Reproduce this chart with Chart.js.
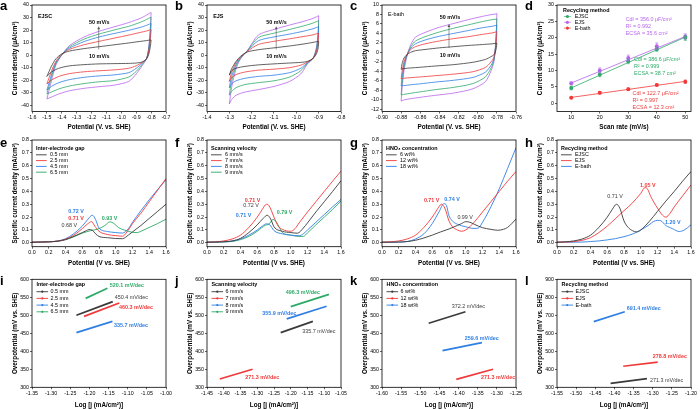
<!DOCTYPE html>
<html><head><meta charset="utf-8">
<script src="https://cdn.jsdelivr.net/npm/chart.js@4.4.1/dist/chart.umd.min.js"></script>
<style>
html,body{margin:0;padding:0;background:#fff}
body{width:700px;height:409px;position:relative;overflow:hidden}
canvas{position:absolute}
.lt{position:absolute;font-family:"Liberation Sans",Arial,sans-serif;font-weight:bold;font-size:13px;line-height:13px;color:#000;z-index:5}
</style></head><body>
<script>
// ================= DATA =================
const panelLetters = ['a','b','c','d','e','f','g','h','i','j','k','l'];

// tick labels
const aXTicks = [-1.6,-1.5,-1.4,-1.3,-1.2,-1.1,-1.0,-0.9,-0.8,-0.7];
const bXTicks = [-1.4,-1.3,-1.2,-1.1,-1.0,-0.9,-0.8];
const cXTicks = [-0.90,-0.88,-0.86,-0.84,-0.82,-0.80,-0.78,-0.76];
const dXTicks = [10,20,30,40,50];
const abYTicks = [-40,-30,-20,-10,0,10,20,30,40];
const cYTicks = [-12,-10,-8,-6,-4,-2,0,2,4,6,8,10];
const dYTicks = [0,5,10,15,20,25,30];
const lsvXTicks = [0,0.2,0.4,0.6,0.8,1.0,1.2,1.4,1.6];
const lsvYTicks = [0,0.1,0.2,0.3,0.4,0.5,0.6,0.7,0.8];
const iXTicks = [-1.35,-1.30,-1.25,-1.20,-1.15,-1.10,-1.05,-1.00];
const jXTicks = [-1.45,-1.40,-1.35,-1.30,-1.25,-1.20,-1.15,-1.10,-1.05];
const kXTicks = [-1.60,-1.55,-1.50,-1.45,-1.40,-1.35,-1.30,-1.25];
const lXTicks = [-1.55,-1.50,-1.45,-1.40,-1.35,-1.30,-1.25,-1.20];
const ijkYTicks = [300,350,400,450,500,550,600];
const lYTicks = [300,400,500,600,700,800,900];

// Panel a : EJSC cyclic voltammetry (10..50 mV/s)
const aFwdX  = [-1.50,-1.47,-1.44,-1.40,-1.35,-1.25,-1.15,-1.05,-0.95,-0.87,-0.83,-0.81,-0.80];
const aBackX = [-0.80,-0.805,-0.815,-0.83,-0.86,-0.90,-0.95,-1.05,-1.15,-1.25,-1.35,-1.42,-1.47,-1.50];
const aFwd10 = [-17,-9,-3,1,3.2,5.2,6.7,8.2,9.7,11,11.6,12,12];
const aFwd20 = [-23,-13,-5,0.5,4.5,8.3,11,13.5,16,18.2,19.3,20,20.3];
const aFwd30 = [-28,-16,-6,0.3,5.5,10.8,14.5,17.2,19.8,22.2,23.8,24.8,25.2];
const aFwd40 = [-31,-18,-7,0.2,6.5,12.8,16.8,20,23,26.3,28.5,29.8,30.2];
const aFwd50 = [-35,-21,-8,0,7.5,14.5,19,22.5,26,29.5,32,33.5,34];
const aBack10 = [12,7,1,-3,-5.5,-6.3,-6.6,-6.8,-7.0,-7.6,-8.6,-10.5,-13.5,-17];
const aBack20 = [20.3,13,4,-2.5,-5.8,-8.5,-10.5,-11.8,-12.5,-13.3,-14.8,-17,-20,-23];
const aBack30 = [25.2,16,5,-2.5,-6.5,-10.5,-14,-15.8,-16.6,-17.7,-19.6,-22,-25,-28];
const aBack40 = [30.2,19,6,-2.5,-7.5,-13,-17.5,-20.3,-21.3,-22.7,-24.7,-27,-29.5,-31];
const aBack50 = [34,22,7,-2.5,-8.5,-15,-21,-24,-25.2,-26.5,-28.5,-31,-33.5,-35];

// Panel b : EJS
const bFwdX  = [-1.30,-1.29,-1.27,-1.25,-1.22,-1.17,-1.10,-1.03,-0.97,-0.93,-0.91,-0.90];
const bBackX = [-0.90,-0.902,-0.91,-0.925,-0.95,-0.98,-1.03,-1.10,-1.17,-1.23,-1.27,-1.29,-1.30];
const bFwd10 = [-16,-11,-5,-1,2.5,4.3,5.8,7.3,8.8,10,10.7,11];
const bFwd20 = [-21,-14,-6,-1.5,3,8.5,11,13,14.8,16,17,17.5];
const bFwd30 = [-26,-17,-7.5,-2,3.2,11.5,14.5,16.8,19,20.8,22,22.8];
const bFwd40 = [-32,-21,-9,-2.5,3.4,14,17.5,20.5,23.2,25.3,26.7,27.5];
const bFwd50 = [-39,-26,-11,-3,3.5,16,20.5,24,26.8,29,30.5,31.5];
const bBack10 = [11,6,1,-2.5,-5,-5.8,-6.3,-7.0,-7.8,-9,-10.5,-12.5,-16];
const bBack20 = [17.5,11,3,-2.5,-5.5,-8,-10,-11.2,-12,-13.5,-15.5,-18,-21];
const bBack30 = [22.8,14,4,-2.5,-6,-10.5,-14,-16,-17,-18.5,-20.5,-23,-26];
const bBack40 = [27.5,17,5,-2.5,-6.5,-12.5,-17.5,-20.5,-22,-23.5,-26,-29,-32];
const bBack50 = [31.5,20,6,-2.5,-7,-15,-21,-25,-27.5,-29.5,-32,-35.5,-39];

// Panel c : E-bath
const cFwdX  = [-0.880,-0.879,-0.877,-0.874,-0.870,-0.865,-0.855,-0.840,-0.825,-0.810,-0.795,-0.785,-0.781,-0.780];
const cBackX = [-0.780,-0.7805,-0.7815,-0.783,-0.786,-0.792,-0.805,-0.825,-0.845,-0.860,-0.870,-0.876,-0.879,-0.880];
const cFwd10 = [-3.6,-2.4,-1.2,-0.5,0,0.35,0.6,0.95,1.2,1.45,1.65,1.8,1.9,1.95];
const cFwd20 = [-5.6,-4,-2,-0.5,0.6,1.2,1.8,2.4,2.9,3.3,3.8,4.1,4.3,4.4];
const cFwd30 = [-7.1,-5.2,-2.6,-0.6,0.9,1.8,2.6,3.4,4.0,4.6,5.2,5.5,5.7,5.8];
const cFwd40 = [-9,-6.5,-3.2,-0.7,1.2,2.4,3.3,4.3,5.1,5.8,6.5,6.9,7.0,7.1];
const cFwd50 = [-10.3,-7.5,-3.8,-0.9,1.6,3.2,4.2,5.3,6.1,6.9,7.6,8.0,8.1,8.2];
const cBack10 = [1.95,1.0,0.1,-0.5,-0.9,-1.5,-2.1,-2.6,-2.9,-3.15,-3.3,-3.4,-3.5,-3.6];
const cBack20 = [4.4,2.6,0.6,-1.0,-2.0,-3.2,-4.1,-4.6,-4.95,-5.2,-5.35,-5.45,-5.55,-5.6];
const cBack30 = [5.8,3.4,0.8,-1.3,-2.7,-4.2,-5.3,-5.9,-6.3,-6.65,-6.85,-7.0,-7.05,-7.1];
const cBack40 = [7.1,4.2,1.0,-1.6,-3.3,-5.2,-6.6,-7.4,-7.9,-8.35,-8.65,-8.85,-8.95,-9.0];
const cBack50 = [8.2,5.0,1.3,-1.9,-3.9,-6.2,-7.7,-8.6,-9.1,-9.5,-9.8,-10.0,-10.2,-10.3];

// Panel d : double-layer capacitance
const recycleMethods = ['EJSC','EJS','E-bath'];
const dScan = [10,20,30,40,50];
const dEJSC = [4.7,8.8,12.8,16.5,20.0];
const dEJS = [6.1,10.0,13.8,17.4,20.4];
const dEbath = [1.7,3.2,4.3,5.6,6.6];
const dErrEJSC = [0.6,0.7,0.7,0.6,0.8];
const dErrEJS = [0.4,0.8,0.9,1.0,0.8];
const dErrEbath = [0.2,0.4,0.4,0.3,0.5];
const dFitX = [10,50];
const dFitEJSC = [4.7,20.2];
const dFitEJS = [6.2,20.4];
const dFitEbath = [1.8,6.7];

// Panel e : inter-electrode gap LSV
const gapNames = ['0.5 mm','2.5 mm','4.5 mm','6.5 mm'];
const eX05 = [0,0.1,0.2,0.3,0.4,0.5,0.6,0.65,0.68,0.72,0.76,0.8,0.9,1.0,1.08,1.15,1.2,1.3,1.4,1.5,1.6];
const eY05 = [0.005,0.006,0.008,0.012,0.025,0.05,0.08,0.095,0.103,0.098,0.07,0.05,0.04,0.034,0.032,0.06,0.085,0.135,0.19,0.245,0.3];
const eX25 = [0,0.1,0.2,0.3,0.4,0.5,0.6,0.66,0.71,0.75,0.8,0.9,1.0,1.08,1.15,1.2,1.3,1.4,1.5,1.6];
const eY25 = [0.005,0.006,0.008,0.013,0.028,0.06,0.11,0.145,0.165,0.13,0.09,0.065,0.056,0.052,0.1,0.15,0.23,0.32,0.41,0.5];
const eX45 = [0,0.1,0.2,0.3,0.4,0.5,0.6,0.67,0.72,0.76,0.8,0.9,1.0,1.08,1.15,1.2,1.3,1.4,1.5,1.6];
const eY45 = [0.005,0.006,0.008,0.014,0.032,0.072,0.13,0.185,0.215,0.18,0.115,0.088,0.08,0.076,0.11,0.16,0.25,0.335,0.415,0.49];
const eX65 = [0,0.1,0.2,0.3,0.4,0.5,0.6,0.7,0.8,0.87,0.93,0.98,1.03,1.1,1.2,1.26,1.3,1.4,1.5,1.6];
const eY65 = [0.005,0.006,0.008,0.013,0.025,0.048,0.075,0.095,0.11,0.135,0.163,0.15,0.12,0.1,0.082,0.08,0.09,0.12,0.15,0.184];

// Panel f : scanning velocity LSV
const velNames = ['6 mm/s','7 mm/s','8 mm/s','9 mm/s'];
const fX6 = [0,0.1,0.2,0.3,0.4,0.5,0.6,0.67,0.72,0.76,0.8,0.9,1.0,1.08,1.15,1.2,1.3,1.4,1.5,1.6];
const fY6 = [0.005,0.006,0.008,0.015,0.035,0.08,0.14,0.19,0.215,0.185,0.125,0.09,0.08,0.075,0.115,0.155,0.24,0.32,0.4,0.483];
const fX7 = [0,0.1,0.2,0.3,0.4,0.5,0.6,0.66,0.71,0.74,0.8,0.85,0.9,1.0,1.05,1.1,1.2,1.3,1.4,1.5,1.6];
const fY7 = [0.005,0.007,0.015,0.03,0.06,0.12,0.2,0.26,0.3,0.29,0.2,0.13,0.105,0.09,0.11,0.155,0.24,0.32,0.4,0.48,0.558];
const fX8 = [0,0.1,0.2,0.3,0.4,0.5,0.6,0.66,0.71,0.75,0.8,0.9,1.0,1.1,1.15,1.2,1.3,1.4,1.5,1.6];
const fY8 = [0.005,0.006,0.008,0.013,0.03,0.06,0.1,0.13,0.148,0.14,0.095,0.07,0.06,0.055,0.07,0.1,0.16,0.22,0.28,0.338];
const fX9 = [0,0.1,0.2,0.3,0.4,0.5,0.6,0.7,0.74,0.79,0.83,0.9,1.0,1.1,1.15,1.2,1.3,1.4,1.5,1.6];
const fY9 = [0.005,0.006,0.008,0.011,0.025,0.05,0.09,0.138,0.145,0.183,0.16,0.08,0.06,0.05,0.05,0.078,0.14,0.2,0.26,0.325];

// Panel g : HNO3 concentration LSV
const hno3Names = ['6 wt%','12 wt%','18 wt%'];
const gX6 = [0,0.1,0.2,0.3,0.4,0.5,0.6,0.7,0.8,0.9,0.95,1.0,1.05,1.1,1.2,1.3,1.38,1.45,1.5,1.55,1.6];
const gY6 = [0.005,0.005,0.006,0.01,0.02,0.038,0.06,0.085,0.108,0.135,0.15,0.165,0.16,0.145,0.118,0.105,0.098,0.105,0.12,0.15,0.185];
const gX12 = [0,0.1,0.2,0.3,0.4,0.5,0.6,0.66,0.71,0.75,0.8,0.85,0.9,0.95,1.0,1.1,1.2,1.3,1.4,1.5,1.6];
const gY12 = [0.005,0.008,0.015,0.03,0.06,0.12,0.2,0.26,0.3,0.27,0.17,0.12,0.1,0.09,0.1,0.16,0.24,0.32,0.4,0.48,0.555];
const gX18 = [0,0.1,0.2,0.3,0.4,0.5,0.6,0.68,0.74,0.77,0.8,0.85,0.9,1.0,1.1,1.15,1.2,1.3,1.4,1.5,1.6];
const gY18 = [0.005,0.005,0.006,0.01,0.03,0.07,0.15,0.24,0.305,0.29,0.21,0.165,0.145,0.125,0.112,0.115,0.16,0.28,0.42,0.58,0.74];

// Panel h : recycling method LSV
const hX1 = [0,0.1,0.2,0.3,0.4,0.5,0.6,0.66,0.71,0.75,0.8,0.85,0.9,0.95,1.0,1.1,1.2,1.3,1.4,1.5,1.6];
const hY1 = [0.005,0.008,0.015,0.03,0.06,0.12,0.2,0.26,0.3,0.27,0.17,0.12,0.095,0.085,0.1,0.165,0.245,0.325,0.4,0.48,0.555];
const hX2 = [0,0.1,0.2,0.3,0.4,0.5,0.6,0.7,0.8,0.9,1.0,1.05,1.08,1.12,1.2,1.26,1.3,1.35,1.4,1.5,1.6];
const hY2 = [0.005,0.006,0.01,0.02,0.04,0.08,0.13,0.19,0.25,0.31,0.385,0.43,0.42,0.36,0.27,0.215,0.2,0.23,0.28,0.365,0.45];
const hX3 = [0,0.1,0.2,0.3,0.4,0.5,0.6,0.7,0.8,0.9,1.0,1.1,1.15,1.2,1.24,1.3,1.38,1.46,1.52,1.6];
const hY3 = [0.005,0.005,0.005,0.006,0.01,0.015,0.023,0.033,0.048,0.068,0.1,0.14,0.165,0.175,0.172,0.135,0.11,0.088,0.1,0.14];

// Panels i-l : Tafel segments
const iX05 = [-1.234,-1.139], iY05 = [500,538];
const iX25 = [-1.214,-1.122], iY25 = [497,534];
const iX45 = [-1.234,-1.140], iY45 = [452,483];
const iX65 = [-1.210,-1.153], iY65 = [547,575];
const jX6 = [-1.230,-1.134], jY6 = [452,483];
const jX7 = [-1.412,-1.314], jY7 = [323,350];
const jX8 = [-1.212,-1.093], jY8 = [490,525];
const jX9 = [-1.200,-1.086], jY9 = [524,558];
const kX6 = [-1.478,-1.382], kY6 = [478,510];
const kX12 = [-1.406,-1.310], kY12 = [322,350];
const kX18 = [-1.442,-1.339], kY18 = [402,424];
const lX1 = [-1.410,-1.315], lY1 = [322,348];
const lX2 = [-1.377,-1.287], lY2 = [417,440];
const lX3 = [-1.454,-1.373], lY3 = [665,720];

// ================= STYLE / LAYOUT =================
const FONT = '"Liberation Sans", Arial, Helvetica, sans-serif';
const COL = {k:'#3a3a3a', r:'#f03a3a', b:'#2f7fe4', g:'#2eaa68', p:'#b865ef'};
const COLS=[0,175,350,525], ROWS=[0,135,270], ROWH=[135,135,139];
const PT=[5,5,9.3], PB=[111.5,111.7,117.3], XPAD=[3.5,2.9,0.2];
const decoMap = new Map();

const deco = {
  id:'deco',
  afterDatasetsDraw(chart){
    const d = decoMap.get(chart.canvas) || {};
    const ctx=chart.ctx, a=chart.chartArea, xs=chart.scales.x, ys=chart.scales.y;
    const X=v=>xs.getPixelForValue(v), Y=v=>ys.getPixelForValue(v);
    ctx.save();
    (d.errors||[]).forEach(e=>{
      ctx.strokeStyle=e.c; ctx.lineWidth=0.6;
      e.xs.forEach((xv,i)=>{
        const px=X(xv), y1=Y(e.ys[i]-e.err[i]), y2=Y(e.ys[i]+e.err[i]);
        ctx.beginPath(); ctx.moveTo(px,y1); ctx.lineTo(px,y2);
        ctx.moveTo(px-1.5,y1); ctx.lineTo(px+1.5,y1);
        ctx.moveTo(px-1.5,y2); ctx.lineTo(px+1.5,y2); ctx.stroke();
      });
    });
    (d.arrows||[]).forEach(ar=>{
      const px=X(ar.x), y1=Y(ar.y1), y2=Y(ar.y2);
      ctx.strokeStyle='#555'; ctx.fillStyle='#555'; ctx.lineWidth=0.6;
      ctx.beginPath(); ctx.moveTo(px,y1); ctx.lineTo(px,y2+2.5); ctx.stroke();
      ctx.beginPath(); ctx.moveTo(px,y2); ctx.lineTo(px-1.4,y2+3); ctx.lineTo(px+1.4,y2+3); ctx.closePath(); ctx.fill();
    });
    ctx.textBaseline='middle';
    (d.texts||[]).forEach(t=>{
      ctx.font=(t.b?'bold ':'')+(t.s||5.4)+'px '+FONT;
      ctx.fillStyle=t.c||'#000'; ctx.textAlign=t.al||'left';
      ctx.fillText(t.t, X(t.x), Y(t.y));
    });
    if (d.legend){
      const L=d.legend, lx=a.left+L.dx, ly=a.top+L.dy;
      ctx.textAlign='left';
      ctx.font='bold 5.4px '+FONT; ctx.fillStyle='#000';
      ctx.fillText(L.title, lx, ly);
      ctx.font='5.4px '+FONT;
      L.labels.forEach((lab,i)=>{
        const yy=ly+L.gap*(i+1), c=L.colors[i];
        ctx.strokeStyle=c; ctx.fillStyle=c;
        if (L.style==='marker'){
          ctx.lineWidth=0.6; ctx.beginPath(); ctx.moveTo(lx+L.sx,yy); ctx.lineTo(lx+L.sx+7,yy); ctx.stroke();
          ctx.beginPath(); ctx.arc(lx+L.sx+3.5,yy,1.6,0,Math.PI*2); ctx.fill();
        } else {
          ctx.lineWidth=0.9;
          ctx.beginPath(); ctx.moveTo(lx,yy); ctx.lineTo(lx+L.len,yy); ctx.stroke();
          if (L.style==='linemarker'){ ctx.beginPath(); ctx.arc(lx+L.len/2,yy,1.1,0,Math.PI*2); ctx.fill(); }
        }
        ctx.fillStyle='#000';
        ctx.fillText(lab, lx+L.tx, yy);
      });
    }
    ctx.strokeStyle='#000'; ctx.lineWidth=0.8;
    ctx.strokeRect(a.left,a.top,a.right-a.left,a.bottom-a.top);
    ctx.restore();
  }
};
Chart.register(deco);

function pts(xs, ys){ return xs.map((x,i)=>({x:x, y:ys[i]})); }
function loopDs(fx,bx,fy,by,c){ return {data:pts(fx,fy).concat(pts(bx,by)), borderColor:c, borderWidth:0.8, pointRadius:0, tension:0.25, fill:false}; }
function curveDs(xs,ys,c){ return {data:pts(xs,ys), borderColor:c, borderWidth:0.9, pointRadius:0, cubicInterpolationMode:'monotone', fill:false}; }
function segDs(xs,ys,c){ return {data:pts(xs,ys), borderColor:c, borderWidth:1.7, pointRadius:0, fill:false}; }
function dotDs(xs,ys,c){ return {data:pts(xs,ys), showLine:false, pointRadius:2, pointBackgroundColor:c, pointBorderColor:c, pointBorderWidth:0}; }
function fitDs(xs,ys,c){ return {data:pts(xs,ys), borderColor:c, borderWidth:0.8, pointRadius:0, fill:false}; }
function fmt(v,dec){ return Number(v).toFixed(dec); }

function build(p){
  const cv=document.createElement('canvas');
  const H=ROWH[p.row];
  cv.width=175; cv.height=H;
  cv.style.left=COLS[p.col]+'px'; cv.style.top=ROWS[p.row]+'px';
  cv.style.width='175px'; cv.style.height=H+'px';
  document.body.appendChild(cv);
  decoMap.set(cv,p.deco||{});
  const tf={family:FONT,size:5.3};
  const axis=(min,max,ticks,dec,title,isX)=>({
    type:'linear', min:min, max:max,
    afterBuildTicks:s=>{ s.ticks=ticks.map(v=>({value:v})); },
    afterFit: isX ? (s=>{ s.height=H-PB[p.row]; }) : (s=>{ s.width=32; }),
    ticks:{autoSkip:false, maxRotation:0, minRotation:0, font:tf, color:'#000', padding:1, callback:v=>fmt(v,dec)},
    grid:{display:true, drawOnChartArea:false, drawTicks:true, tickLength:2, tickWidth:0.6, color:'#000'},
    border:{display:false},
    title:{display:true, text:title, color:'#000', font:{family:FONT,size:6.3,weight:'bold'},
      padding: isX? {top:0,bottom:XPAD[p.row]} : {top:11.2,bottom:0}}
  });
  new Chart(cv,{type:'line', data:{datasets:p.datasets}, options:{
    responsive:false, animation:false, devicePixelRatio:1, events:[],
    layout:{padding:{left:0,right:9,top:PT[p.row],bottom:0}},
    plugins:{legend:{display:false}, tooltip:{enabled:false}},
    scales:{x:axis(p.xMin,p.xMax,p.xTicks,p.xDec,p.xTitle,true), y:axis(p.yMin,p.yMax,p.yTicks,p.yDec,p.yTitle,false)}
  }});
}

const lsvLegend = (title,labels,colors)=>({title:title,labels:labels,colors:colors,style:'line',dx:4,dy:9,gap:5.8,len:10.7,tx:14});
const tafLegend = (title,labels,colors)=>({title:title,labels:labels,colors:colors,style:'linemarker',dx:4.5,dy:5.7,gap:6.7,len:11.6,tx:14});
const CVX='Potential (V. vs. SHE)', CVY='Current density (μA/cm²)';
const LSVX='Potential (V vs. SHE)', LSVY='Specific current density (mA/cm²)';
const TFX='Log [j (mA/cm²)]', TFY='Overpotential (mV vs. SHE)';

const panels = [
 {col:0,row:0,xMin:-1.6,xMax:-0.7,xTicks:aXTicks,xDec:1,yMin:-45,yMax:40,yTicks:abYTicks,yDec:0,xTitle:CVX,yTitle:CVY,
  datasets:[loopDs(aFwdX,aBackX,aFwd10,aBack10,COL.k),loopDs(aFwdX,aBackX,aFwd20,aBack20,COL.r),loopDs(aFwdX,aBackX,aFwd30,aBack30,COL.b),loopDs(aFwdX,aBackX,aFwd40,aBack40,COL.g),loopDs(aFwdX,aBackX,aFwd50,aBack50,COL.p)],
  deco:{texts:[{x:-1.56,y:31,t:'EJSC',b:1},{x:-1.148,y:26,t:'50 mV/s',b:1,al:'center'},{x:-1.148,y:-1.3,t:'10 mV/s',b:1,al:'center'}],arrows:[{x:-1.152,y1:4.5,y2:23}]}},
 {col:1,row:0,xMin:-1.4,xMax:-0.8,xTicks:bXTicks,xDec:1,yMin:-45,yMax:40,yTicks:abYTicks,yDec:0,xTitle:CVX,yTitle:CVY,
  datasets:[loopDs(bFwdX,bBackX,bFwd10,bBack10,COL.k),loopDs(bFwdX,bBackX,bFwd20,bBack20,COL.r),loopDs(bFwdX,bBackX,bFwd30,bBack30,COL.b),loopDs(bFwdX,bBackX,bFwd40,bBack40,COL.g),loopDs(bFwdX,bBackX,bFwd50,bBack50,COL.p)],
  deco:{texts:[{x:-1.3725,y:31,t:'EJS',b:1},{x:-1.089,y:26,t:'50 mV/s',b:1,al:'center'},{x:-1.089,y:-1.3,t:'10 mV/s',b:1,al:'center'}],arrows:[{x:-1.09,y1:4.5,y2:23}]}},
 {col:2,row:0,xMin:-0.9,xMax:-0.76,xTicks:cXTicks,xDec:2,yMin:-12.5,yMax:10,yTicks:cYTicks,yDec:0,xTitle:CVX,yTitle:CVY,
  datasets:[loopDs(cFwdX,cBackX,cFwd10,cBack10,COL.k),loopDs(cFwdX,cBackX,cFwd20,cBack20,COL.r),loopDs(cFwdX,cBackX,cFwd30,cBack30,COL.b),loopDs(cFwdX,cBackX,cFwd40,cBack40,COL.g),loopDs(cFwdX,cBackX,cFwd50,cBack50,COL.p)],
  deco:{texts:[{x:-0.8937,y:7.9,t:'E-bath'},{x:-0.829,y:7.3,t:'50 mV/s',b:1,al:'center'},{x:-0.829,y:-0.6,t:'10 mV/s',b:1,al:'center'}],arrows:[{x:-0.83,y1:0.9,y2:6.0}]}},
 {col:3,row:0,xMin:5,xMax:52,xTicks:dXTicks,xDec:0,yMin:-2.5,yMax:30,yTicks:dYTicks,yDec:0,xTitle:'Scan rate (mV/s)',yTitle:CVY,
  datasets:[fitDs(dFitX,dFitEJSC,COL.g),fitDs(dFitX,dFitEJS,COL.p),fitDs(dFitX,dFitEbath,COL.r),dotDs(dScan,dEJSC,COL.g),dotDs(dScan,dEJS,COL.p),dotDs(dScan,dEbath,COL.r)],
  deco:{errors:[{xs:dScan,ys:dEJSC,err:dErrEJSC,c:COL.g},{xs:dScan,ys:dEJS,err:dErrEJS,c:COL.p},{xs:dScan,ys:dEbath,err:dErrEbath,c:COL.r}],
   legend:{title:'Recycling method',labels:recycleMethods,colors:[COL.g,COL.p,COL.r],style:'marker',dx:6,dy:5.7,gap:5.8,sx:0.9,tx:11.7},
   texts:[{x:29.1,y:25.6,t:'Cdl = 356.0 μF/cm²',c:COL.p},{x:29.1,y:23.4,t:'R² = 0.992',c:COL.p},{x:29.1,y:21.4,t:'ECSA = 35.6 cm²',c:COL.p},
          {x:32,y:13.4,t:'Cdl = 386.6 μF/cm²',c:COL.g},{x:32,y:11.2,t:'R² = 0.999',c:COL.g},{x:32,y:9.0,t:'ECSA = 38.7 cm²',c:COL.g},
          {x:31.5,y:3.0,t:'Cdl = 122.7 μF/cm²',c:COL.r},{x:31.5,y:0.8,t:'R² = 0.997',c:COL.r},{x:31.5,y:-1.3,t:'ECSA = 12.3 cm²',c:COL.r}]}},
 {col:0,row:1,xMin:0,xMax:1.6,xTicks:lsvXTicks,xDec:1,yMin:-0.03,yMax:0.8,yTicks:lsvYTicks,yDec:1,xTitle:LSVX,yTitle:LSVY,
  datasets:[curveDs(eX05,eY05,COL.k),curveDs(eX25,eY25,COL.r),curveDs(eX45,eY45,COL.b),curveDs(eX65,eY65,COL.g)],
  deco:{legend:lsvLegend('Inter-electrode gap',gapNames,[COL.k,COL.r,COL.b,COL.g]),
   texts:[{x:0.432,y:0.247,t:'0.72 V',c:COL.b,b:1},{x:0.432,y:0.19,t:'0.71 V',c:COL.r,b:1},{x:0.352,y:0.138,t:'0.68 V',c:COL.k},{x:0.832,y:0.19,t:'0.93 V',c:COL.g,b:1}]}},
 {col:1,row:1,xMin:0,xMax:1.6,xTicks:lsvXTicks,xDec:1,yMin:-0.03,yMax:0.8,yTicks:lsvYTicks,yDec:1,xTitle:LSVX,yTitle:LSVY,
  datasets:[curveDs(fX6,fY6,COL.k),curveDs(fX7,fY7,COL.r),curveDs(fX8,fY8,COL.b),curveDs(fX9,fY9,COL.g)],
  deco:{legend:lsvLegend('Scanning velocity',velNames,[COL.k,COL.r,COL.b,COL.g]),
   texts:[{x:0.452,y:0.327,t:'0.71 V',c:COL.r,b:1},{x:0.432,y:0.288,t:'0.72 V',c:COL.k},{x:0.344,y:0.216,t:'0.71 V',c:COL.b,b:1},{x:0.832,y:0.236,t:'0.79 V',c:COL.g,b:1}]}},
 {col:2,row:1,xMin:0,xMax:1.6,xTicks:lsvXTicks,xDec:1,yMin:-0.03,yMax:0.8,yTicks:lsvYTicks,yDec:1,xTitle:LSVX,yTitle:LSVY,
  datasets:[curveDs(gX6,gY6,COL.k),curveDs(gX12,gY12,COL.r),curveDs(gX18,gY18,COL.b)],
  deco:{legend:lsvLegend('HNO₃ concentration',hno3Names,[COL.k,COL.r,COL.b]),
   texts:[{x:0.5,y:0.327,t:'0.71 V',c:COL.r,b:1},{x:0.744,y:0.338,t:'0.74 V',c:COL.b,b:1},{x:0.9,y:0.2,t:'0.99 V',c:COL.k}]}},
 {col:3,row:1,xMin:0,xMax:1.6,xTicks:lsvXTicks,xDec:1,yMin:-0.03,yMax:0.8,yTicks:lsvYTicks,yDec:1,xTitle:LSVX,yTitle:LSVY,
  datasets:[curveDs(hX1,hY1,COL.k),curveDs(hX2,hY2,COL.r),curveDs(hX3,hY3,COL.b)],
  deco:{legend:lsvLegend('Recycling method',recycleMethods,[COL.k,COL.r,COL.b]),
   texts:[{x:0.6,y:0.358,t:'0.71 V',c:COL.k},{x:0.99,y:0.444,t:'1.05 V',c:COL.r,b:1},{x:1.29,y:0.158,t:'1.20 V',c:COL.b,b:1}]}},
 {col:0,row:2,xMin:-1.35,xMax:-1.0,xTicks:iXTicks,xDec:2,yMin:300,yMax:600,yTicks:ijkYTicks,yDec:0,xTitle:TFX,yTitle:TFY,
  datasets:[segDs(iX05,iY05,COL.k),segDs(iX25,iY25,COL.r),segDs(iX45,iY45,COL.b),segDs(iX65,iY65,COL.g)],
  deco:{legend:tafLegend('Inter-electrode gap',gapNames,[COL.k,COL.r,COL.b,COL.g]),
   texts:[{x:-1.1466,y:584,t:'520.1 mV/dec',c:COL.g,b:1},{x:-1.134,y:549,t:'450.4 mV/dec',c:COL.k},{x:-1.123,y:522,t:'460.3 mV/dec',c:COL.r,b:1},{x:-1.136,y:473,t:'335.7 mV/dec',c:COL.b,b:1}]}},
 {col:1,row:2,xMin:-1.45,xMax:-1.05,xTicks:jXTicks,xDec:2,yMin:300,yMax:600,yTicks:ijkYTicks,yDec:0,xTitle:TFX,yTitle:TFY,
  datasets:[segDs(jX6,jY6,COL.k),segDs(jX7,jY7,COL.r),segDs(jX8,jY8,COL.b),segDs(jX9,jY9,COL.g)],
  deco:{legend:tafLegend('Scanning velocity',velNames,[COL.k,COL.r,COL.b,COL.g]),
   texts:[{x:-1.2146,y:562,t:'496.3 mV/dec',c:COL.g,b:1},{x:-1.2853,y:506,t:'355.9 mV/dec',c:COL.b,b:1},{x:-1.166,y:455,t:'335.7 mV/dec',c:COL.k},{x:-1.336,y:326,t:'271.3 mV/dec',c:COL.r,b:1}]}},
 {col:2,row:2,xMin:-1.6,xMax:-1.25,xTicks:kXTicks,xDec:2,yMin:300,yMax:600,yTicks:ijkYTicks,yDec:0,xTitle:TFX,yTitle:TFY,
  datasets:[segDs(kX6,kY6,COL.k),segDs(kX12,kY12,COL.r),segDs(kX18,kY18,COL.b)],
  deco:{legend:tafLegend('HNO₃ concentration',hno3Names,[COL.k,COL.r,COL.b]),
   texts:[{x:-1.418,y:524,t:'372.2 mV/dec',c:COL.k},{x:-1.384,y:436,t:'259.6 mV/dec',c:COL.b,b:1},{x:-1.3415,y:326,t:'271.3 mV/dec',c:COL.r,b:1}]}},
 {col:3,row:2,xMin:-1.55,xMax:-1.2,xTicks:lXTicks,xDec:2,yMin:300,yMax:900,yTicks:lYTicks,yDec:0,xTitle:TFX,yTitle:TFY,
  datasets:[segDs(lX1,lY1,COL.k),segDs(lX2,lY2,COL.r),segDs(lX3,lY3,COL.b)],
  deco:{legend:tafLegend('Recycling method',recycleMethods,[COL.k,COL.r,COL.b]),
   texts:[{x:-1.368,y:735,t:'691.4 mV/dec',c:COL.b,b:1},{x:-1.30,y:469,t:'278.8 mV/dec',c:COL.r,b:1},{x:-1.307,y:340,t:'271.3 mV/dec',c:COL.k}]}}
];

panels.forEach(build);

const LT_TOP=[-1.2,136,273.5];
panels.forEach((p,i)=>{
  const d=document.createElement('div');
  d.className='lt'; d.textContent=panelLetters[i];
  d.style.left=COLS[p.col]+'px'; d.style.top=LT_TOP[p.row]+'px';
  document.body.appendChild(d);
});
</script></body></html>
